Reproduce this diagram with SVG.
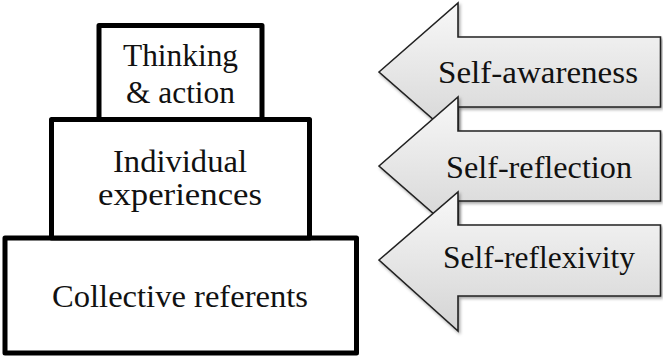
<svg xmlns="http://www.w3.org/2000/svg" width="663" height="358" viewBox="0 0 663 358">
<defs>
<linearGradient id="g" x1="0" y1="0" x2="0" y2="1">
<stop offset="0" stop-color="#f8f8f8"/>
<stop offset="1" stop-color="#d4d4d4"/>
</linearGradient>
<filter id="sh" x="-10%" y="-10%" width="130%" height="130%">
<feDropShadow dx="1.5" dy="2" stdDeviation="1.5" flood-color="#000" flood-opacity="0.35"/>
</filter>
</defs>
<style>
.box{fill:#fff;stroke:#000;stroke-width:5;stroke-linejoin:round}
.arr{fill:url(#g);stroke:#222;stroke-width:1.6;stroke-linejoin:miter;filter:url(#sh)}
.t{font-family:"Liberation Serif","Times New Roman",serif;font-size:32px;fill:#111}
</style>
<rect width="663" height="358" fill="#fff"/>
<g id="node-collective">
<rect class="box" x="5" y="238" width="351.5" height="115"/>
<text class="t" x="52" y="307" textLength="256" lengthAdjust="spacingAndGlyphs">Collective referents</text>
</g>
<g id="node-individual">
<rect class="box" x="51.5" y="119.5" width="258" height="118.5"/>
<text class="t" x="113" y="172" textLength="134" lengthAdjust="spacingAndGlyphs">Individual</text>
<text class="t" x="98" y="205" textLength="164" lengthAdjust="spacingAndGlyphs">experiences</text>
</g>
<g id="node-thinking">
<rect class="box" x="99" y="25.5" width="163" height="94"/>
<text class="t" x="123" y="66" textLength="115" lengthAdjust="spacingAndGlyphs">Thinking</text>
<text class="t" x="126" y="103" textLength="109" lengthAdjust="spacingAndGlyphs">&amp; action</text>
</g>
<g id="connectors">
<g id="arrow-awareness">
<polygon class="arr" points="379,72 458,3 458,37 660.5,37 660.5,107 458,107 458,141"/>
<text class="t" x="438" y="83" textLength="200" lengthAdjust="spacingAndGlyphs">Self-awareness</text>
</g>
<g id="arrow-reflection">
<polygon class="arr" points="379,166 458,97 458,131 660.5,131 660.5,201 458,201 458,235"/>
<text class="t" x="446" y="178" textLength="186" lengthAdjust="spacingAndGlyphs">Self-reflection</text>
</g>
<g id="arrow-reflexivity">
<polygon class="arr" points="379,260 458,192 458,225 660.5,225 660.5,296 458,296 458,331"/>
<text class="t" x="443" y="268" textLength="192" lengthAdjust="spacingAndGlyphs">Self-reflexivity</text>
</g>
</g>
</svg>
